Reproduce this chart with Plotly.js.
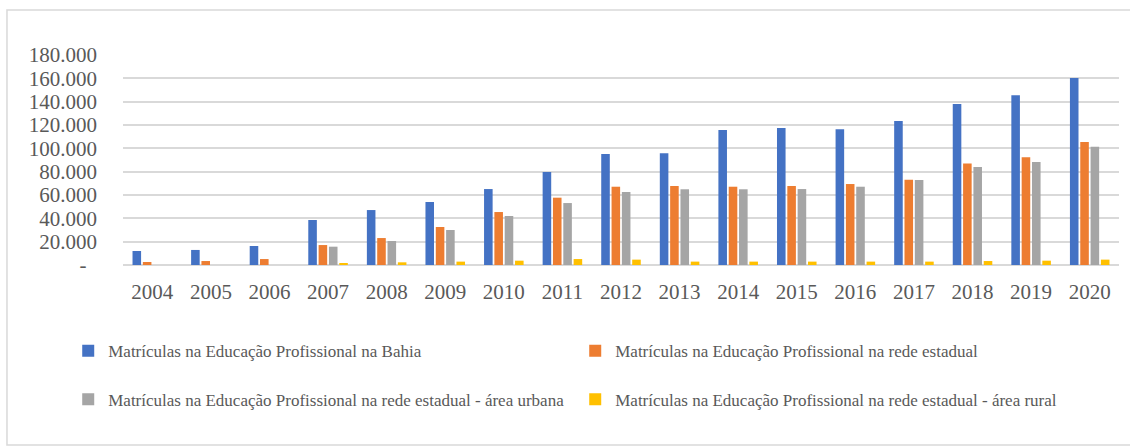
<!DOCTYPE html>
<html>
<head>
<meta charset="utf-8">
<script src="https://cdn.plot.ly/plotly-3.0.1.min.js"></script>
<style>
  html, body { margin: 0; padding: 0; background: #fff; }
  #chart { width: 1130px; height: 446px; }
</style>
</head>
<body>
<div id="chart"></div>
<script>
const years = ['2004','2005','2006','2007','2008','2009','2010','2011','2012','2013','2014','2015','2016','2017','2018','2019','2020'];
const bahia   = [12000, 12900, 16300, 38600, 47100, 54000, 65100, 79700, 95100, 95700, 115700, 117400, 116300, 123400, 138000, 145400, 160300];
const estadual = [2600, 3400, 5100, 17100, 23100, 32600, 45400, 57700, 67100, 67700, 67100, 67700, 69400, 73100, 86900, 92300, 105400];
const urbana  = [null, null, null, 15700, 20600, 30000, 42000, 53100, 62600, 64900, 64900, 65100, 67100, 72900, 84000, 88300, 101400];
const rural   = [null, null, null, 1200, 2300, 2900, 3700, 5100, 4600, 2900, 2900, 2900, 2900, 2900, 3400, 3700, 4600];
const seriesNames = [
  'Matrículas na Educação Profissional na Bahia',
  'Matrículas na Educação Profissional na rede estadual',
  'Matrículas na Educação Profissional na rede estadual - área urbana',
  'Matrículas na Educação Profissional na rede estadual - área rural'
];
const colors = ['#4472C4', '#ED7D31', '#A5A5A5', '#FFC000'];
const yTickVals = [0, 20000, 40000, 60000, 80000, 100000, 120000, 140000, 160000, 180000];
const yTickText = ['-\u00a0\u00a0', '20.000', '40.000', '60.000', '80.000', '100.000', '120.000', '140.000', '160.000', '180.000'];

const font = "'Liberation Serif', 'Times New Roman', serif";
const allSeries = [bahia, estadual, urbana, rural];
const legendIds = ['legend', 'legend', 'legend2', 'legend2'];
const data = allSeries.map((vals, i) => ({
  type: 'bar',
  x: years,
  y: vals,
  name: seriesNames[i],
  marker: { color: colors[i] },
  legend: legendIds[i],
  hoverinfo: 'x+y+name'
}));

const legendCommon = {
  orientation: 'h',
  xref: 'paper', yref: 'paper',
  xanchor: 'left', yanchor: 'middle',
  entrywidth: 462, entrywidthmode: 'pixels',
  font: { family: font, size: 17, color: '#595959' },
  bgcolor: 'rgba(0,0,0,0)',
  itemclick: false, itemdoubleclick: false
};

const layout = {
  width: 1130, height: 446,
  margin: { l: 123, r: 11, t: 55, b: 181 },
  paper_bgcolor: '#ffffff',
  plot_bgcolor: '#ffffff',
  font: { family: font },
  barmode: 'group',
  bargap: 0.295,
  bargroupgap: 0.17,
  showlegend: true,
  xaxis: {
    type: 'category',
    showgrid: false,
    showline: false,
    zeroline: false,
    ticks: '',
    ticklabelstandoff: 12,
    tickfont: { family: font, size: 21, color: '#595959' }
  },
  yaxis: {
    range: [0, 180000],
    tickmode: 'array',
    tickvals: yTickVals,
    ticktext: yTickText,
    showgrid: true,
    gridcolor: '#d9d9d9',
    gridwidth: 1.5,
    zeroline: true,
    zerolinecolor: '#d9d9d9',
    zerolinewidth: 1.5,
    showline: false,
    ticks: '',
    ticklabelstandoff: 25,
    tickfont: { family: font, size: 21, color: '#595959' }
  },
  legend: Object.assign({}, legendCommon, { x: -0.055, y: -0.41 }),
  legend2: Object.assign({}, legendCommon, { x: -0.055, y: -0.642 }),
  shapes: [{
    type: 'rect', xref: 'paper', yref: 'paper',
    x0: -0.1165, x1: 1.02, y0: -0.857, y1: 1.2143,
    line: { color: '#d9d9d9', width: 1.5 },
    fillcolor: 'rgba(0,0,0,0)',
    layer: 'below'
  }]
};

Plotly.newPlot('chart', data, layout, { displayModeBar: false });
</script>
</body>
</html>
